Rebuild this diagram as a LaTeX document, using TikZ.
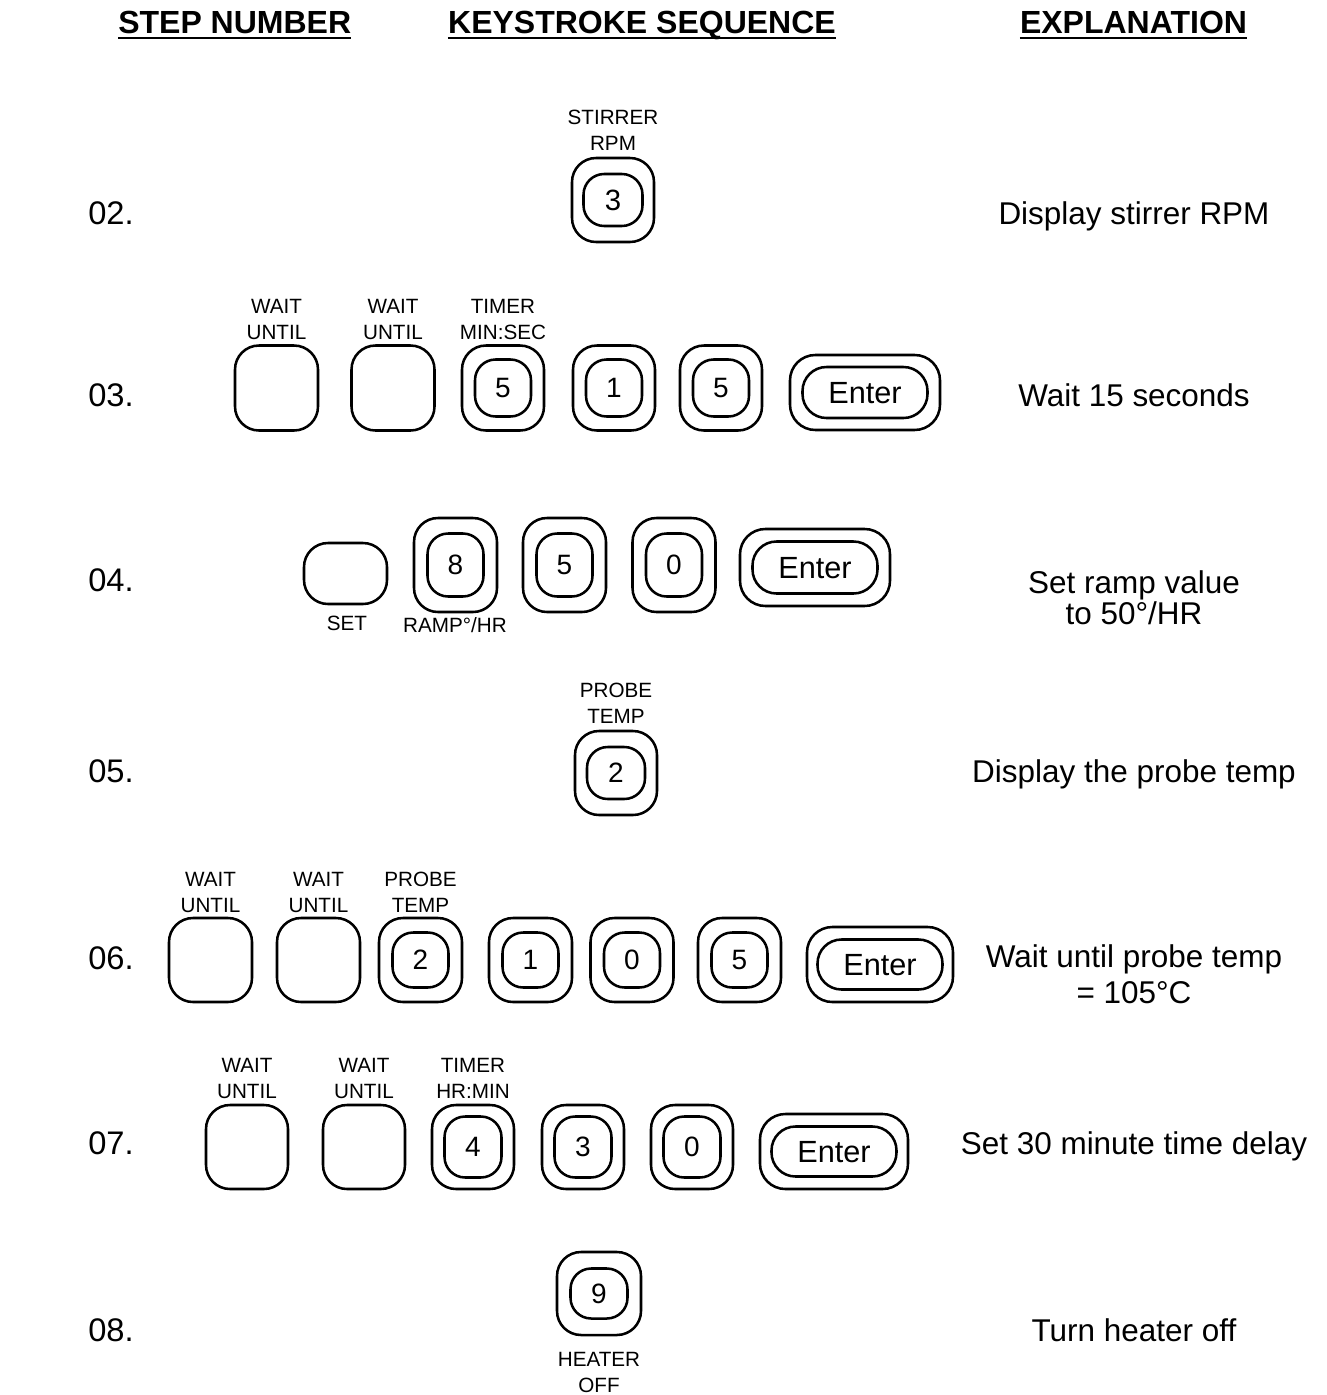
\documentclass[tikz,border=0pt]{standalone}
\usepackage{fontspec}
\setmainfont{Liberation Sans}
\tikzset{
  okey/.style={draw, line width=1.9pt, rounded corners=18pt, inner sep=0pt},
  oenter/.style={draw, line width=1.9pt, rounded corners=19pt, inner sep=0pt},
  ikey/.style={draw, line width=1.9pt, rounded corners=15.5pt, inner sep=0pt, text depth=0pt, font=\fontsize{21}{24}\selectfont},
  ienter/.style={draw, line width=1.9pt, rounded corners=18pt, inner sep=0pt, text depth=0pt, font=\fontsize{23}{26}\selectfont},
  lab/.style={font=\fontsize{15.5}{19.5}\selectfont, align=center, inner sep=0pt},
  lab1/.style={font=\fontsize{15.5}{19.5}\selectfont, inner sep=0pt, text depth=0pt},
  expl/.style={font=\fontsize{23.6}{28}\selectfont, inner sep=0pt, text depth=0pt},
  expl2/.style={font=\fontsize{23.6}{#1}\selectfont, align=center, inner sep=0pt},
  stepn/.style={font=\fontsize{24.5}{28}\selectfont, inner sep=0pt, text depth=0pt, anchor=west},
  head/.style={font=\fontsize{24}{28}\selectfont\bfseries, inner sep=0pt, text depth=0pt},
  uline/.style={line width=1.5pt},
}
% name, cx, cy, outer w, outer h, inner w, inner h, text, extra inner style
\newcommand\kbkey[9]{%
  \node[okey, minimum width=#4*0.75pt, minimum height=#5*0.75pt] (#1o) at (#2,#3) {};
  \node[ikey, minimum width=#6*0.75pt, minimum height=#7*0.75pt, #9] (#1) at (#1o.center) {#8};
}
\newcommand\kbenter[7]{%
  \node[oenter, minimum width=#4*0.75pt, minimum height=#5*0.75pt] (#1o) at (#2,#3) {};
  \node[ienter, minimum width=#6*0.75pt, minimum height=#7*0.75pt] (#1) at (#1o.center) {Enter};
}
\newcommand\kbblank[5]{%
  \node[okey, minimum width=#4*0.75pt, minimum height=#5*0.75pt] (#1) at (#2,#3) {};
}
\begin{document}
\begin{tikzpicture}[x=0.75pt, y=-0.75pt]
\useasboundingbox (0,0) rectangle (1327,1395);

% headers
\node[head, anchor=west] (h1) at (118,22) {STEP NUMBER};
\node[head] (h2) at (642,22) {KEYSTROKE SEQUENCE};
\node[head] (h3) at (1133.5,22) {EXPLANATION};
\foreach \h in {h1,h2,h3}{
  \draw[uline] ([yshift=-3.5pt]\h.base west) -- ([yshift=-3.5pt]\h.base east);
}

% step numbers
\node[stepn] (s02) at (88,213) {02.};
\node[stepn] (s03) at (88,395) {03.};
\node[stepn] (s04) at (88,580) {04.};
\node[stepn] (s05) at (88,771) {05.};
\node[stepn] (s06) at (88,958) {06.};
\node[stepn] (s07) at (88,1143) {07.};
\node[stepn] (s08) at (88,1330) {08.};

% explanations
\node[expl] (x02) at (1134,213) {Display stirrer RPM};
\node[expl] (x03) at (1134,395) {Wait 15 seconds};
\node[expl2=19pt] (x04) at (1134,598) {Set ramp value\\to 50°/HR};
\node[expl] (x05) at (1134,771) {Display the probe temp};
\node[expl2=27pt] (x06) at (1134,974) {Wait until probe temp\\= 105°C};
\node[expl] (x07) at (1134,1143) {Set 30 minute time delay};
\node[expl] (x08) at (1134,1330) {Turn heater off};

% row 02
\kbkey{k2}{613}{200}{82}{84}{59}{52}{3}{font=\fontsize{22}{24}\selectfont}
\node[lab] (l2) at (613,130.5) {STIRRER\\RPM};

% row 03
\kbblank{r3a}{276.5}{388}{83}{85}
\kbblank{r3b}{393}{388}{83}{85}
\kbkey{k3a}{503}{388}{82}{85}{56}{57}{5}{}
\kbkey{k3b}{614}{388}{82}{85}{56}{57}{1}{}
\kbkey{k3c}{721}{388}{82}{85}{56}{57}{5}{}
\kbenter{e3}{865}{392.5}{150}{75}{125}{51}
\node[lab] (l3a) at (276.5,319) {WAIT\\UNTIL};
\node[lab] (l3b) at (393,319) {WAIT\\UNTIL};
\node[lab] (l3c) at (503,319) {TIMER\\MIN:SEC};

% row 04
\kbblank{r4a}{345.5}{573.5}{83}{61}
\kbkey{k4a}{455.5}{565}{83}{94}{56}{63}{8}{}
\kbkey{k4b}{564.5}{565}{83}{94}{56}{63}{5}{}
\kbkey{k4c}{674}{565}{83}{94}{56}{63}{0}{}
\kbenter{e4}{815}{567.5}{150}{77}{125}{52}
\node[lab1] (l4a) at (347,623) {SET};
\node[lab1] (l4b) at (455,625) {RAMP°/HR};

% row 05
\kbkey{k5}{616}{773}{82}{84}{58}{52}{2}{}
\node[lab] (l5) at (616,703) {PROBE\\TEMP};

% row 06
\kbblank{r6a}{210.5}{960}{83}{84}
\kbblank{r6b}{318.5}{960}{83}{84}
\kbkey{k6a}{420.5}{960}{83}{84}{56}{55}{2}{}
\kbkey{k6b}{530.5}{960}{83}{84}{56}{55}{1}{}
\kbkey{k6c}{632}{960}{83}{84}{56}{55}{0}{}
\kbkey{k6d}{739.5}{960}{83}{84}{56}{55}{5}{}
\kbenter{e6}{880}{964.5}{146}{75}{125}{50}
\node[lab] (l6a) at (210.5,892) {WAIT\\UNTIL};
\node[lab] (l6b) at (318.5,892) {WAIT\\UNTIL};
\node[lab] (l6c) at (420.5,892) {PROBE\\TEMP};

% row 07
\kbblank{r7a}{247}{1147}{82}{84}
\kbblank{r7b}{364}{1147}{82}{84}
\kbkey{k7a}{473}{1147}{82}{84}{57}{61}{4}{}
\kbkey{k7b}{583}{1147}{82}{84}{57}{61}{3}{}
\kbkey{k7c}{692}{1147}{82}{84}{57}{61}{0}{}
\kbenter{e7}{834}{1151.5}{148}{75}{125}{50}
\node[lab] (l7a) at (247,1078.5) {WAIT\\UNTIL};
\node[lab] (l7b) at (364,1078.5) {WAIT\\UNTIL};
\node[lab] (l7c) at (473,1078.5) {TIMER\\HR:MIN};

% row 08
\kbkey{k8}{599}{1293.5}{84}{83}{57}{50}{9}{}
\node[lab] (l8) at (599,1372) {HEATER\\OFF};
\end{tikzpicture}
\end{document}
